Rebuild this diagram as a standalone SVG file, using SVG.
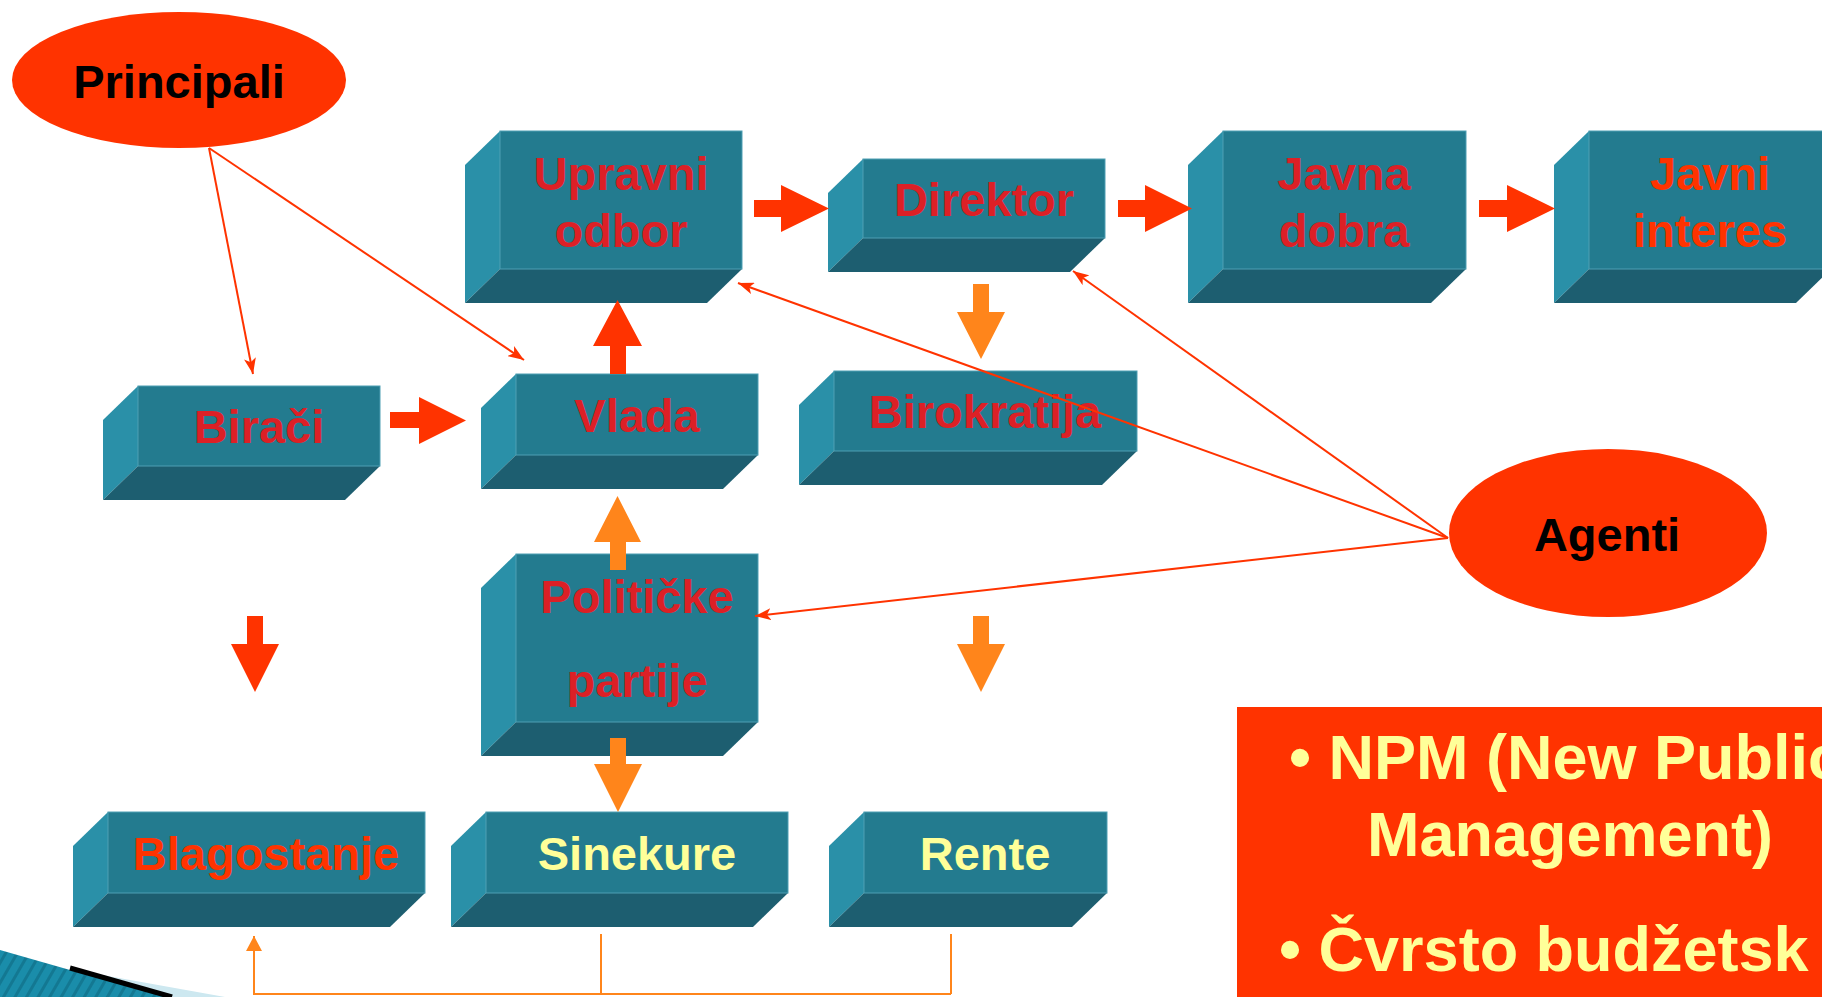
<svg xmlns="http://www.w3.org/2000/svg" width="1822" height="997" viewBox="0 0 1822 997">
<defs>
<style>
.fr{fill:#237B8F;stroke:#4E9FB3;stroke-width:1}
.lf{fill:#2A90A8}
.bt{fill:#1D5E70}
.t{font-family:"Liberation Sans",Arial,sans-serif;font-weight:bold;font-size:47px;text-anchor:middle}
.red{fill:#DC2026}
.or{fill:#FF3300}
.yl{fill:#FFFF99}
.blk{fill:#000}
.ra{fill:#FF3300}
.oa{fill:#FF851B}
.ln{stroke:#FF3300;stroke-width:2;fill:none}
.ol{stroke:#FF851B;stroke-width:2;fill:none}
.npm{font-family:"Liberation Sans",Arial,sans-serif;font-weight:bold;font-size:63px;fill:#FFFF99}
</style>
<marker id="ah" markerUnits="userSpaceOnUse" markerWidth="16" markerHeight="12" refX="16" refY="6" orient="auto">
<path d="M0,0 L16,6 L0,12 L4,6 z" fill="#FF3300"/>
</marker>
<marker id="oh" markerUnits="userSpaceOnUse" markerWidth="16" markerHeight="16" refX="15" refY="8" orient="auto">
<path d="M0,0 L15,8 L0,16 z" fill="#FF851B"/>
</marker>
<pattern id="stripes" patternUnits="userSpaceOnUse" width="10" height="10" patternTransform="rotate(30)">
<rect width="10" height="10" fill="#1A8DAA"/>
<rect width="3" height="10" fill="#137892"/>
</pattern>
</defs>
<rect width="1822" height="997" fill="#FFFFFF"/>

<g id="deco">
<polygon points="0,950 77,972 173,997 0,997" fill="url(#stripes)"/>
<polygon points="80,971 225,997 170,997" fill="#CDE8F0"/>
<line x1="70" y1="968" x2="172" y2="997" stroke="#000" stroke-width="5"/>
</g>

<g id="principali">
<ellipse cx="179" cy="80" rx="167" ry="68" fill="#FF3300"/>
<text class="t blk" x="179" y="98">Principali</text>
</g>

<g id="agenti">
<ellipse cx="1608" cy="533" rx="159" ry="84" fill="#FF3300"/>
<text class="t blk" x="1607" y="551">Agenti</text>
</g>

<g id="upravni-odbor">
<polygon class="lf" points="465,165 500,131 500,269 465,303"/>
<polygon class="bt" points="500,269 742,269 707,303 465,303"/>
<rect class="fr" x="500" y="131" width="242" height="138"/>
<text class="t red" x="621" y="190">Upravni</text>
<text class="t red" x="621" y="247">odbor</text>
</g>

<g id="direktor">
<polygon class="lf" points="828,193 863,159 863,238 828,272"/>
<polygon class="bt" points="863,238 1105,238 1070,272 828,272"/>
<rect class="fr" x="863" y="159" width="242" height="79"/>
<text class="t red" x="984" y="216">Direktor</text>
</g>

<g id="javna-dobra">
<polygon class="lf" points="1188,165 1223,131 1223,269 1188,303"/>
<polygon class="bt" points="1223,269 1466,269 1431,303 1188,303"/>
<rect class="fr" x="1223" y="131" width="243" height="138"/>
<text class="t red" x="1344" y="190">Javna</text>
<text class="t red" x="1344" y="247">dobra</text>
</g>

<g id="javni-interes">
<polygon class="lf" points="1554,165 1589,131 1589,269 1554,303"/>
<polygon class="bt" points="1589,269 1831,269 1796,303 1554,303"/>
<rect class="fr" x="1589" y="131" width="242" height="138"/>
<text class="t or" x="1710" y="190">Javni</text>
<text class="t or" x="1710" y="247">interes</text>
</g>

<g id="biraci">
<polygon class="lf" points="103,420 138,386 138,466 103,500"/>
<polygon class="bt" points="138,466 380,466 345,500 103,500"/>
<rect class="fr" x="138" y="386" width="242" height="80"/>
<text class="t red" x="259" y="443">Birači</text>
</g>

<g id="vlada">
<polygon class="lf" points="481,408 516,374 516,455 481,489"/>
<polygon class="bt" points="516,455 758,455 723,489 481,489"/>
<rect class="fr" x="516" y="374" width="242" height="81"/>
<text class="t red" x="637" y="432">Vlada</text>
</g>

<g id="birokratija">
<polygon class="lf" points="799,405 834,371 834,451 799,485"/>
<polygon class="bt" points="834,451 1137,451 1102,485 799,485"/>
<rect class="fr" x="834" y="371" width="303" height="80"/>
<text class="t red" x="985" y="428">Birokratija</text>
</g>

<g id="politicke-partije">
<polygon class="lf" points="481,588 516,554 516,722 481,756"/>
<polygon class="bt" points="516,722 758,722 723,756 481,756"/>
<rect class="fr" x="516" y="554" width="242" height="168"/>
<text class="t red" x="637" y="613">Političke</text>
<text class="t red" x="637" y="697">partije</text>
</g>

<g id="blagostanje">
<polygon class="lf" points="73,846 108,812 108,893 73,927"/>
<polygon class="bt" points="108,893 425,893 390,927 73,927"/>
<rect class="fr" x="108" y="812" width="317" height="81"/>
<text class="t or" x="266" y="870">Blagostanje</text>
</g>

<g id="sinekure">
<polygon class="lf" points="451,846 486,812 486,893 451,927"/>
<polygon class="bt" points="486,893 788,893 753,927 451,927"/>
<rect class="fr" x="486" y="812" width="302" height="81"/>
<text class="t yl" x="637" y="870">Sinekure</text>
</g>

<g id="rente">
<polygon class="lf" points="829,846 864,812 864,893 829,927"/>
<polygon class="bt" points="864,893 1107,893 1072,927 829,927"/>
<rect class="fr" x="864" y="812" width="243" height="81"/>
<text class="t yl" x="985" y="870">Rente</text>
</g>

<g id="npm">
<rect x="1237" y="707" width="600" height="300" fill="#FF3300"/>
<text class="npm" x="1289" y="779">• NPM (New Public</text>
<text class="npm" x="1570" y="856" text-anchor="middle">Management)</text>
<text class="npm" x="1279" y="971">• Čvrsto budžetsk</text>
</g>

<g id="connectors">
<polygon class="ra" points="754,200 781,200 781,185 829,208.5 781,232 781,217 754,217"/>
<polygon class="ra" points="1118,200 1145,200 1145,185 1192,208.5 1145,232 1145,217 1118,217"/>
<polygon class="ra" points="1479,200 1507,200 1507,185 1555,208.5 1507,232 1507,217 1479,217"/>
<polygon class="ra" points="390,412 419,412 419,397 466,420.5 419,444 419,428 390,428"/>
<polygon class="ra" points="610,374 610,346 593,346 617.5,300 642,346 626,346 626,374"/>
<polygon class="oa" points="973,284 989,284 989,312 1005,312 981,359 957,312 973,312"/>
<polygon class="oa" points="610,570 610,542 594,542 617.5,496 641,542 626,542 626,570"/>
<polygon class="oa" points="610,738 626,738 626,764 642,764 618,812 594,764 610,764"/>
<polygon class="ra" points="247,616 263,616 263,644 279,644 255,692 231,644 247,644"/>
<polygon class="oa" points="973,616 989,616 989,644 1005,644 981,692 957,644 973,644"/>
<line class="ln" x1="209" y1="148" x2="253" y2="374" marker-end="url(#ah)"/>
<line class="ln" x1="209" y1="148" x2="524" y2="360" marker-end="url(#ah)"/>
<line class="ln" x1="1448" y1="538" x2="738" y2="283" marker-end="url(#ah)"/>
<line class="ln" x1="1448" y1="538" x2="1073" y2="271" marker-end="url(#ah)"/>
<line class="ln" x1="1448" y1="538" x2="755" y2="616" marker-end="url(#ah)"/>
<line class="ol" x1="601" y1="934" x2="601" y2="994"/>
<line class="ol" x1="951" y1="934" x2="951" y2="994"/>
<polyline class="ol" points="951,994 254,994 254,936" marker-end="url(#oh)"/>
</g>
</svg>
